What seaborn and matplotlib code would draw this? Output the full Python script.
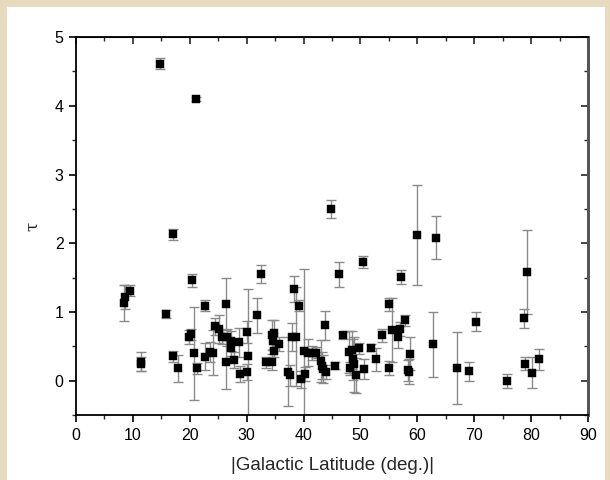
import matplotlib
matplotlib.use("Agg")
import matplotlib.pyplot as plt
from matplotlib.ticker import MultipleLocator, NullFormatter
from matplotlib.patches import Rectangle
import numpy as np
import pandas as pd
import seaborn as sns

# |b| in degrees, optical depth tau and its 1-sigma error
latitude = [14.8, 21.1, 17.1, 44.8, 59.9, 63.2, 79.3, 50.5, 46.3, 57.2,
            32.5, 20.4, 38.3, 8.4, 8.6, 9.5, 15.8, 22.7, 26.4, 31.8,
            39.2, 55.0, 78.7, 70.3, 57.9, 43.7, 24.4, 25.2, 25.6, 19.8,
            20.3, 26.6, 27.2, 27.3, 28.6, 30.1, 30.2, 30.0, 28.8, 27.7,
            26.4, 24.1, 23.5, 22.7, 20.8, 21.2, 17.1, 18.0, 11.5, 11.5,
            34.4, 34.8, 34.6, 35.6, 34.8, 33.4, 34.5, 37.9, 38.6, 37.2,
            37.6, 39.6, 40.3, 40.1, 40.8, 41.4, 42.2, 43.0, 43.2, 43.4,
            43.9, 45.6, 47.0, 48.0, 48.5, 48.2, 48.6, 48.9, 49.2, 49.7,
            50.7, 51.8, 52.8, 53.7, 55.1, 55.5, 56.9, 56.6, 58.7, 58.4,
            58.5, 62.8, 66.9, 69.1, 75.8, 79.0, 80.1, 81.4]
tau = [4.61, 4.10, 2.13, 2.50, 2.12, 2.08, 1.58, 1.73, 1.55, 1.51,
       1.55, 1.46, 1.34, 1.13, 1.22, 1.31, 0.97, 1.09, 1.12, 0.95,
       1.09, 1.11, 0.91, 0.86, 0.88, 0.81, 0.79, 0.75, 0.64, 0.64,
       0.68, 0.63, 0.58, 0.48, 0.56, 0.71, 0.36, 0.13, 0.10, 0.30,
       0.28, 0.41, 0.42, 0.35, 0.40, 0.18, 0.36, 0.18, 0.28, 0.24,
       0.67, 0.69, 0.58, 0.53, 0.44, 0.27, 0.27, 0.64, 0.64, 0.13,
       0.08, 0.02, 0.10, 0.43, 0.41, 0.40, 0.41, 0.29, 0.22, 0.17,
       0.13, 0.22, 0.66, 0.42, 0.45, 0.18, 0.31, 0.24, 0.08, 0.47,
       0.17, 0.48, 0.31, 0.66, 0.19, 0.74, 0.75, 0.63, 0.39, 0.15,
       0.13, 0.53, 0.19, 0.14, 0.00, 0.25, 0.12, 0.31]
tau_err = [0.08, 0.03, 0.08, 0.13, 0.73, 0.31, 0.61, 0.09, 0.18, 0.10,
           0.13, 0.10, 0.19, 0.26, 0.17, 0.08, 0.06, 0.08, 0.38, 0.25,
           0.08, 0.10, 0.14, 0.14, 0.08, 0.21, 0.12, 0.20, 0.10, 0.10,
           0.08, 0.12, 0.15, 0.12, 0.21, 0.16, 0.98, 0.12, 0.12, 0.12,
           0.40, 0.33, 0.14, 0.20, 0.68, 0.08, 0.08, 0.20, 0.14, 0.10,
           0.22, 0.20, 0.12, 0.10, 0.10, 0.08, 0.12, 0.20, 0.72, 0.50,
           0.15, 0.12, 0.10, 1.20, 0.20, 0.10, 0.08, 0.30, 0.20, 0.20,
           0.10, 0.05, 0.05, 0.30, 0.28, 0.10, 0.30, 0.40, 0.25, 0.08,
           0.15, 0.05, 0.17, 0.10, 0.10, 0.46, 0.10, 0.15, 0.24, 0.15,
           0.18, 0.47, 0.52, 0.14, 0.10, 0.10, 0.23, 0.15]

x_ticks = list(range(0, 91, 10))
y_ticks = [0, 1, 2, 3, 4, 5]

df = pd.DataFrame({"b": latitude, "tau": tau, "err": tau_err})

sns.set_style("ticks")
plt.rcParams["font.family"] = ["Liberation Sans", "DejaVu Sans"]

fig = plt.figure(figsize=(6.1, 4.8), dpi=100)
fig.patch.set_facecolor("#e8dabf")
# white sheet behind the plot
fig.add_artist(Rectangle((7 / 610, 0), 1 - 12 / 610, 1 - 7 / 480,
                         transform=fig.transFigure, facecolor="white",
                         edgecolor="none", zorder=0))

ax = fig.add_axes([0.1246, 0.135, 0.8394, 0.788])
ax.set_facecolor("white")

ax.errorbar(df["b"], df["tau"], yerr=df["err"], fmt="none",
            ecolor="#8a8a8a", elinewidth=1.0, capsize=3.5, capthick=1.0,
            zorder=2)
sns.scatterplot(data=df, x="b", y="tau", marker="s", s=36, color="black",
                edgecolor="black", linewidth=0.3, ax=ax, zorder=3)

ax.set_xlim(0, 90)
ax.set_ylim(-0.5, 5)
ax.set_xticks(x_ticks)
ax.set_yticks(y_ticks)
ax.xaxis.set_minor_locator(MultipleLocator(5))
ax.yaxis.set_minor_locator(MultipleLocator(0.5))
ax.tick_params(which="major", direction="out", length=5, width=1.2,
               labelsize=11.5, colors="black", pad=4)
ax.tick_params(which="minor", direction="out", length=3, width=1.0)
for side in ["left", "bottom", "top"]:
    ax.spines[side].set_linewidth(1.3)
    ax.spines[side].set_color("black")
ax.spines["right"].set_linewidth(2.0)
ax.spines["right"].set_color("#555555")

# mirrored ticks pointing inward on top and right
top = ax.secondary_xaxis("top")
top.set_xticks(x_ticks)
top.xaxis.set_minor_locator(MultipleLocator(5))
top.xaxis.set_major_formatter(NullFormatter())
top.tick_params(which="major", direction="in", length=5, width=1.2)
top.tick_params(which="minor", direction="in", length=3, width=1.0)
right = ax.secondary_yaxis("right")
right.set_yticks(y_ticks)
right.yaxis.set_minor_locator(MultipleLocator(0.5))
right.yaxis.set_major_formatter(NullFormatter())
right.tick_params(which="major", direction="in", length=5, width=1.2)
right.tick_params(which="minor", direction="in", length=3, width=1.0)
right.spines["right"].set_linewidth(2.0)
right.spines["right"].set_color("#555555")

ax.set_xlabel("|Galactic Latitude (deg.)|", fontsize=13.5, labelpad=10)
ax.set_ylabel("τ", fontsize=12, family=["DejaVu Serif"], labelpad=10)

fig.savefig("out.png", dpi=100, facecolor=fig.get_facecolor())
